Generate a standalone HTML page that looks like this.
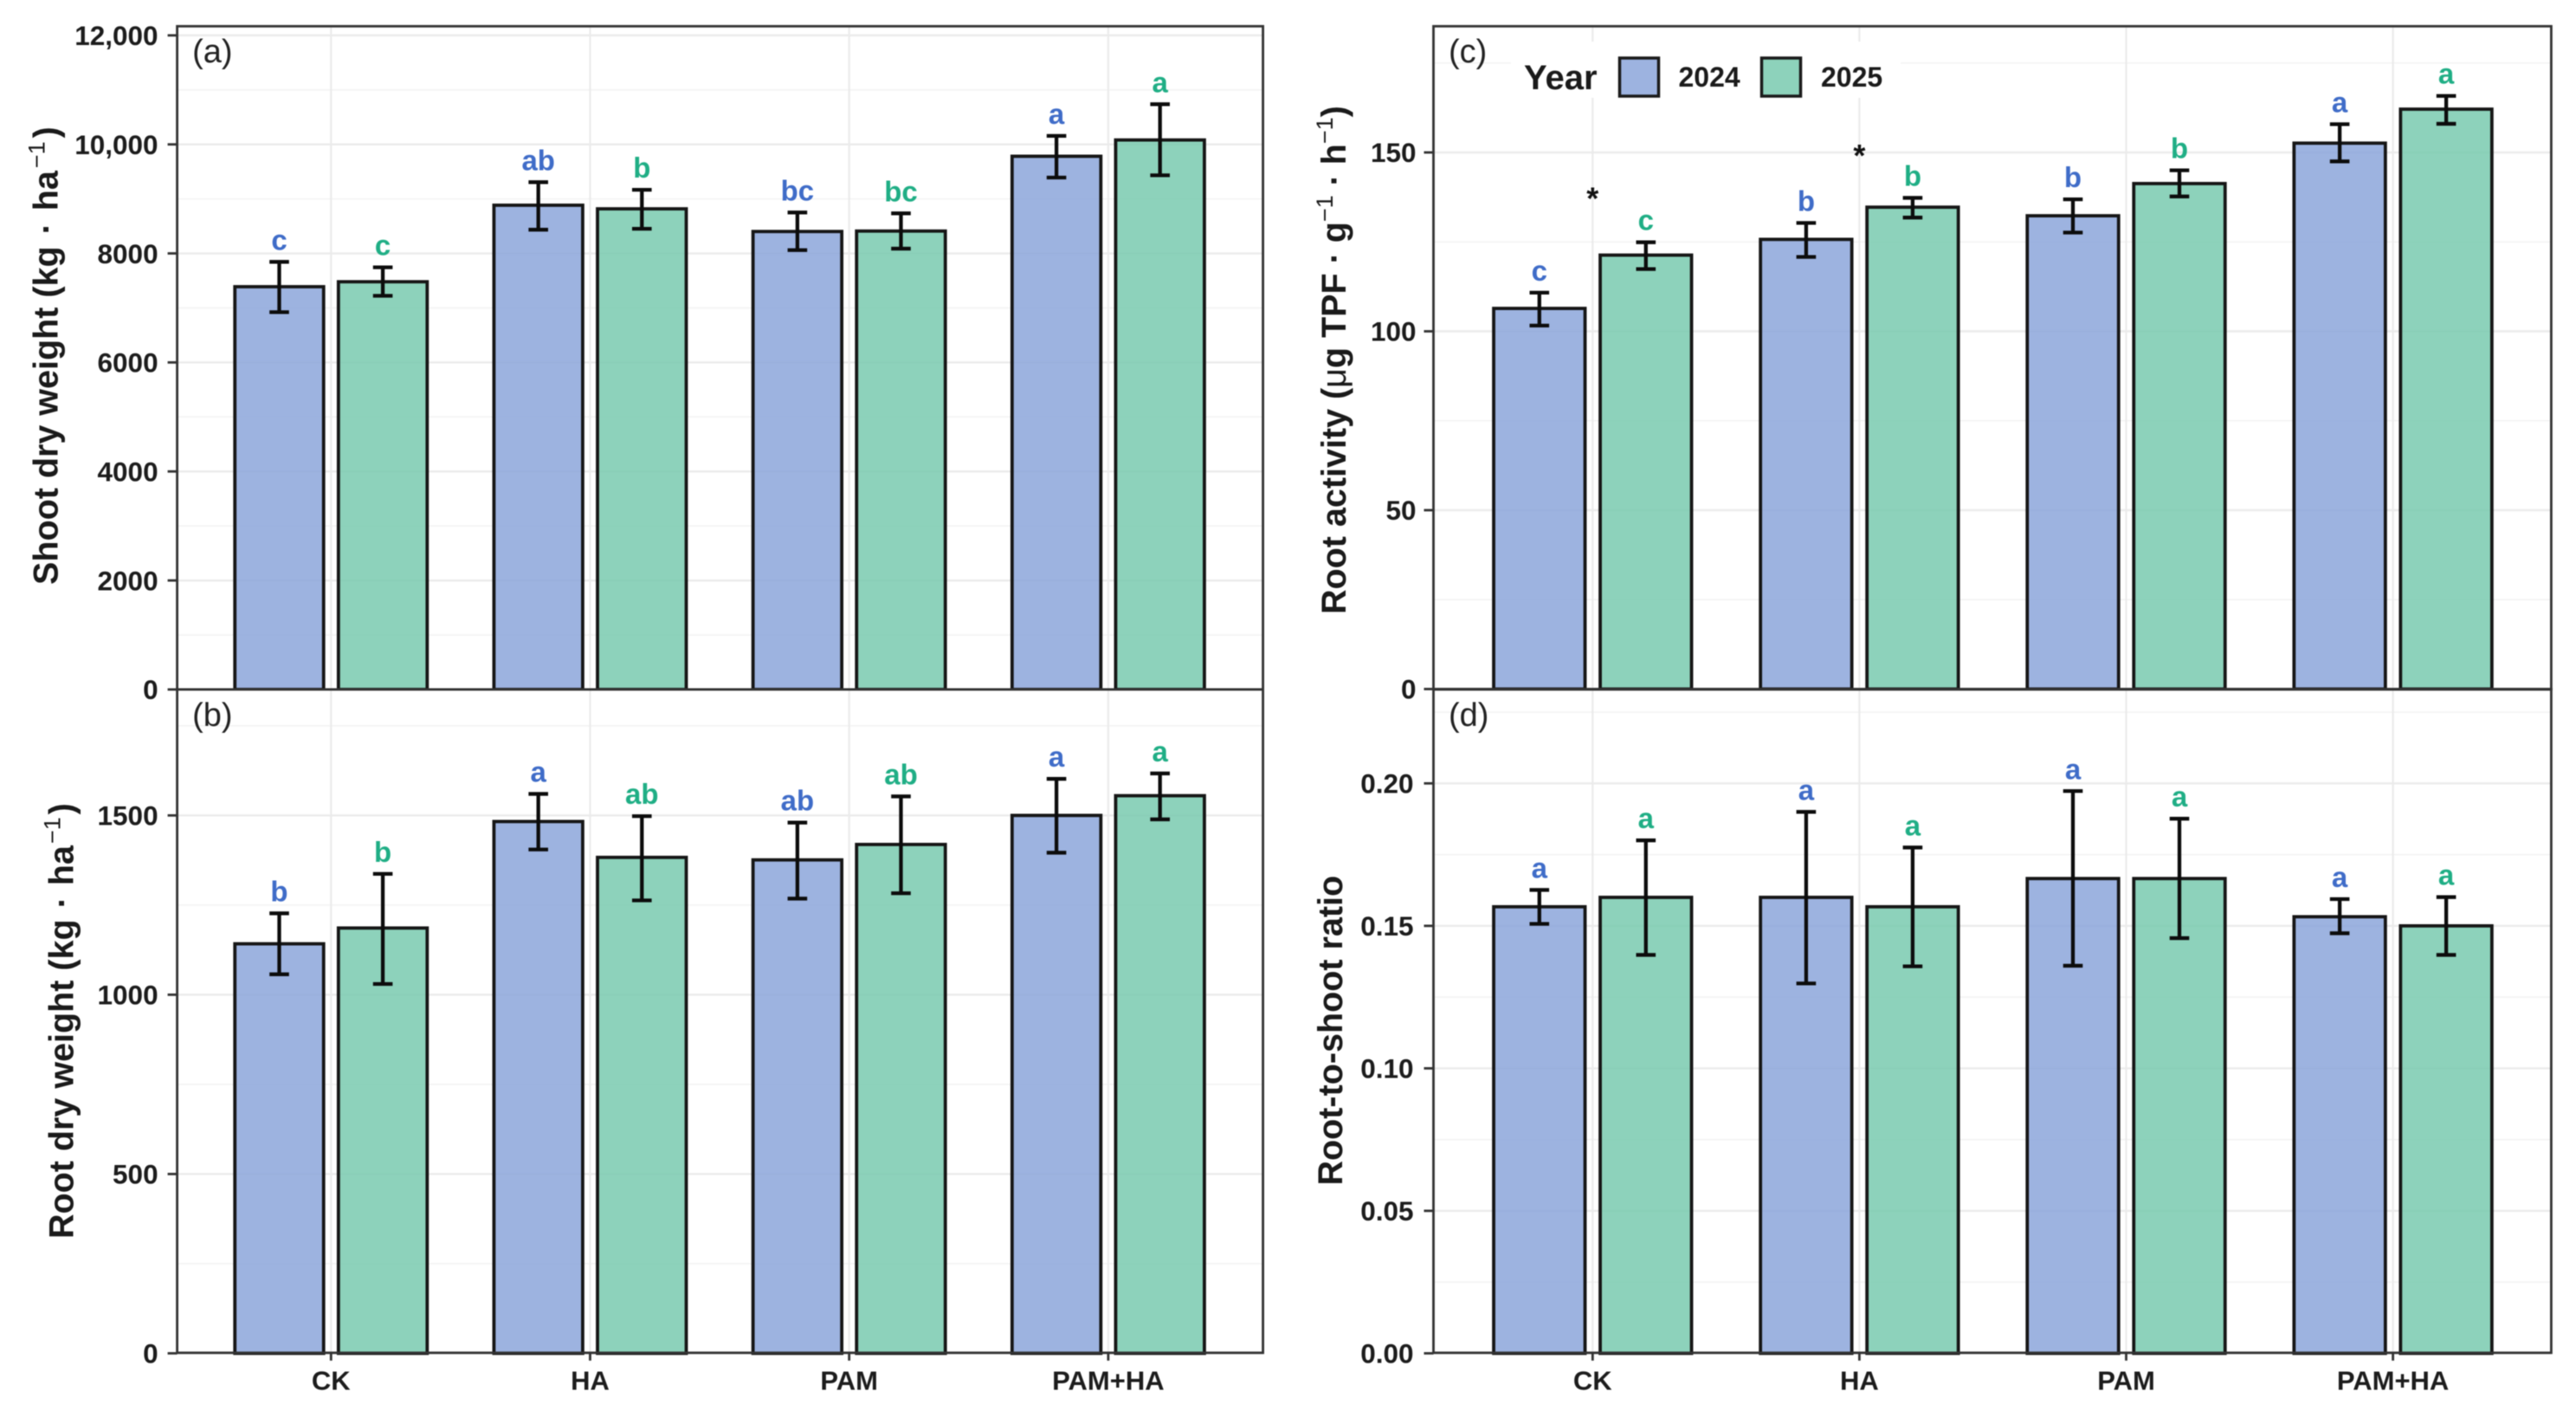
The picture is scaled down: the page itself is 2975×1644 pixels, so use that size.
<!DOCTYPE html>
<html lang="en">
<head>
<meta charset="utf-8">
<title>Shoot and root traits by treatment and year</title>
<style>
html,body{margin:0;padding:0;background:#fff;}
svg{display:block;filter:blur(0.5px);}
text{font-family:"Liberation Sans",Arial,sans-serif;}
.title{font-size:39.5px;font-weight:bold;fill:#1a1a1a;}
.sup{font-size:27px;font-weight:normal;}
.panel-tag{font-size:38px;fill:#222;}
.tick-text{font-size:31.5px;font-weight:bold;fill:#1c1c1c;}
</style>
</head>
<body>
<svg id="chart" xmlns="http://www.w3.org/2000/svg" width="2975" height="1644" viewBox="0 0 2975 1644">
  <rect x="0" y="0" width="2975" height="1644" fill="#ffffff"/>
  <g id="plots"></g>

  <text class="title" transform="translate(66.5 675) rotate(-90)">Shoot dry weight (kg <tspan dx="3">·</tspan><tspan dx="3"> ha</tspan><tspan class="sup" dx="3" dy="-15">−1</tspan><tspan dx="4" dy="15">)</tspan></text>
  <text class="title" transform="translate(84.5 1430) rotate(-90)">Root dry weight (kg <tspan dx="2">·</tspan><tspan dx="2"> ha</tspan><tspan class="sup" dx="2" dy="-15">−1</tspan><tspan dx="3" dy="15">)</tspan></text>
  <text class="title" transform="translate(1554 709) rotate(-90)">Root activity (<tspan font-weight="normal">μ</tspan>g TPF · g<tspan class="sup" dy="-15">−1</tspan><tspan dy="15"> · h</tspan><tspan class="sup" dy="-15">−1</tspan><tspan dy="15">)</tspan></text>
  <text class="title" transform="translate(1550 1368.5) rotate(-90)">Root-to-shoot ratio</text>

  <g>
    <text x="1760" y="103" font-size="40" font-weight="bold" fill="#1a1a1a">Year</text>
    <rect x="1870.5" y="67" width="45" height="44" fill="#9db3e0" stroke="#1a1a1a" stroke-width="3.5"/>
    <text x="1938.5" y="100" font-size="32" font-weight="bold" fill="#1a1a1a">2024</text>
    <rect x="2034.5" y="67" width="45" height="44" fill="#8dd2bb" stroke="#1a1a1a" stroke-width="3.5"/>
    <text x="2103" y="100" font-size="32" font-weight="bold" fill="#1a1a1a">2025</text>
  </g>
</svg>

<script>
const categories = ['CK', 'HA', 'PAM', 'PAM+HA'];
const years = ['2024', '2025'];

const shootMean2024 = [7389, 8884, 8402, 9782];
const shootUpper2024 = [7845, 9307, 8751, 10156];
const shootLower2024 = [6922, 8435, 8061, 9391];
const shootMean2025 = [7480, 8818, 8410, 10081];
const shootUpper2025 = [7745, 9167, 8735, 10737];
const shootLower2025 = [7222, 8452, 8087, 9433];
const shootLetters2024 = ['c', 'ab', 'bc', 'a'];
const shootLetters2025 = ['c', 'b', 'bc', 'a'];
const shootTicks = [0, 2000, 4000, 6000, 8000, 10000, 12000];
const shootTickLabels = ['0', '2000', '4000', '6000', '8000', '10,000', '12,000'];
const shootMinorTicks = [1000, 3000, 5000, 7000, 9000, 11000];

const rootMean2024 = [1142, 1483, 1376, 1500];
const rootUpper2024 = [1227, 1560, 1480, 1602];
const rootLower2024 = [1057, 1405, 1268, 1396];
const rootMean2025 = [1186, 1383, 1419, 1555];
const rootUpper2025 = [1337, 1498, 1553, 1617];
const rootLower2025 = [1030, 1263, 1283, 1489];
const rootLetters2024 = ['b', 'a', 'ab', 'a'];
const rootLetters2025 = ['b', 'ab', 'ab', 'a'];
const rootTicks = [0, 500, 1000, 1500];
const rootTickLabels = ['0', '500', '1000', '1500'];
const rootMinorTicks = [250, 750, 1250, 1750];

const activityMean2024 = [106.4, 125.7, 132.3, 152.6];
const activityUpper2024 = [110.8, 130.3, 136.9, 157.9];
const activityLower2024 = [101.6, 120.8, 127.6, 147.5];
const activityMean2025 = [121.3, 134.7, 141.3, 162.1];
const activityUpper2025 = [124.9, 137.3, 145, 165.8];
const activityLower2025 = [117.4, 131.8, 137.7, 158];
const activityLetters2024 = ['c', 'b', 'b', 'a'];
const activityLetters2025 = ['c', 'b', 'b', 'a'];
const activityTicks = [0, 50, 100, 150];
const activityTickLabels = ['0', '50', '100', '150'];
const activityMinorTicks = [25, 75, 125, 175];
const activityStarCategories = ['CK', 'HA'];
const activityStarValues = [137.5, 149.5];

const ratioMean2024 = [0.1567, 0.16, 0.1666, 0.1532];
const ratioUpper2024 = [0.1626, 0.19, 0.1973, 0.1594];
const ratioLower2024 = [0.1507, 0.1298, 0.136, 0.1474];
const ratioMean2025 = [0.16, 0.1567, 0.1666, 0.15];
const ratioUpper2025 = [0.18, 0.1775, 0.1876, 0.1601];
const ratioLower2025 = [0.1398, 0.1358, 0.1457, 0.1398];
const ratioLetters2024 = ['a', 'a', 'a', 'a'];
const ratioLetters2025 = ['a', 'a', 'a', 'a'];
const ratioTicks = [0, 0.05, 0.1, 0.15, 0.2];
const ratioTickLabels = ['0.00', '0.05', '0.10', '0.15', '0.20'];
const ratioMinorTicks = [0.025, 0.075, 0.125, 0.175, 0.225];

const SVG_NS = 'http://www.w3.org/2000/svg';
const FILLS = ['rgb(140,166,218)', 'rgb(121,202,175)'];
const LETTER_COLORS = ['#3f6cc8', '#1fae85'];

function make(tag, parent, attrs, content) {
  const node = document.createElementNS(SVG_NS, tag);
  Object.keys(attrs).forEach(function (k) { node.setAttribute(k, attrs[k]); });
  if (content !== undefined) node.textContent = content;
  parent.appendChild(node);
  return node;
}

function drawPanel(root, p) {
  const yOf = function (v) { return p.y0 - v * p.scale; };
  const xOf = function (i) { return p.x0 + i * p.step; };
  const group = make('g', root, {});
  
  

  const bg = make('rect', group, { x: p.left, y: p.top, width: p.right - p.left, height: p.bottom - p.top, fill: '#ffffff' });
  
  

  p.minorTicks.forEach(function (v) {
    const line = make('line', group, { x1: p.left, x2: p.right, y1: yOf(v), y2: yOf(v), stroke: '#f3f3f3', 'stroke-width': 1.6 });
    
    
  });
  p.ticks.forEach(function (v) {
    const line = make('line', group, { x1: p.left, x2: p.right, y1: yOf(v), y2: yOf(v), stroke: '#ebebeb', 'stroke-width': 2.4 });
    
    
  });
  categories.forEach(function (c, i) {
    const line = make('line', group, { x1: xOf(i), x2: xOf(i), y1: p.top, y2: p.bottom, stroke: '#ebebeb', 'stroke-width': 2.2 });
    
    
  });

  if (p.legendMask) {
    const mask = make('rect', group, { x: 1745, y: 48, width: 450, height: 65, fill: '#ffffff' });
    
    
  }

  years.forEach(function (year, s) {
    categories.forEach(function (c, i) {
      const cx = xOf(i) + (s === 0 ? -p.offset : p.offset);
      const top = yOf(p.means[s][i]);
      const bar = make('rect', group, {
        x: cx - p.barWidth / 2, y: top, width: p.barWidth, height: yOf(0) - top,
        fill: FILLS[s], 'fill-opacity': 0.85, stroke: '#161616', 'stroke-width': 3.8
      });
      
      
    });
  });

  years.forEach(function (year, s) {
    categories.forEach(function (c, i) {
      const cx = xOf(i) + (s === 0 ? -p.offset : p.offset);
      const yu = yOf(p.upper[s][i]);
      const yl = yOf(p.lower[s][i]);
      const err = make('path', group, {
        d: 'M' + (cx - 11.3) + ' ' + yu + 'H' + (cx + 11.3) + 'M' + cx + ' ' + yu + 'V' + yl + 'M' + (cx - 11.3) + ' ' + yl + 'H' + (cx + 11.3),
        fill: 'none', stroke: '#0c0c0c', 'stroke-width': 4.3
      });
      
      

      const letter = make('text', group, {
        x: cx, y: yu - 14, 'text-anchor': 'middle', 'font-size': 33, 'font-weight': 'bold', fill: LETTER_COLORS[s]
      }, p.letters[s][i]);
      
      
    });
  });

  if (p.starCategories) {
    p.starCategories.forEach(function (c, i) {
      const star = make('text', group, {
        x: xOf(categories.indexOf(c)), y: yOf(p.starValues[i]) + 14, 'text-anchor': 'middle', 'font-size': 36, 'font-weight': 'bold', fill: '#111'
      }, '*');
      
      
    });
  }

  const frame = make('rect', group, { x: p.left, y: p.top, width: p.right - p.left, height: p.bottom - p.top, fill: 'none', stroke: '#333333', 'stroke-width': 2.8 });
  
  

  p.ticks.forEach(function (v, i) {
    const tick = make('line', group, { x1: p.left - 11, x2: p.left, y1: yOf(v), y2: yOf(v), stroke: '#333333', 'stroke-width': 2.8 });
    
    
    const label = make('text', group, { class: 'tick-text', x: p.left - p.labelGap, y: yOf(v) + 11.2, 'text-anchor': 'end' }, p.tickLabels[i]);
    
    
  });

  if (p.showX) {
    categories.forEach(function (c, i) {
      const tick = make('line', group, { x1: xOf(i), x2: xOf(i), y1: p.bottom, y2: p.bottom + 9, stroke: '#333333', 'stroke-width': 2.8 });
      
      
      const label = make('text', group, { x: xOf(i), y: 1604.5, 'text-anchor': 'middle', 'font-size': 31, 'font-weight': 'bold', fill: '#1c1c1c' }, c);
      
      
    });
  }

  const tag = make('text', group, { class: 'panel-tag', x: p.left + 17.5, y: p.tagY }, '(' + p.id + ')');
  
  
}

const plots = document.getElementById('plots');

drawPanel(plots, {
  id: 'a', left: 204.6, right: 1458.6, top: 30.3, bottom: 796, y0: 796, scale: 0.06293,
  x0: 382.3, step: 299.2, offset: 59.8, barWidth: 102.5, labelGap: 22, tagY: 72, showX: false,
  means: [shootMean2024, shootMean2025], upper: [shootUpper2024, shootUpper2025], lower: [shootLower2024, shootLower2025],
  letters: [shootLetters2024, shootLetters2025], ticks: shootTicks, tickLabels: shootTickLabels, minorTicks: shootMinorTicks
});
drawPanel(plots, {
  id: 'b', left: 204.6, right: 1458.6, top: 796, bottom: 1561.8, y0: 1562.4, scale: 0.414,
  x0: 382.3, step: 299.2, offset: 59.8, barWidth: 102.5, labelGap: 22, tagY: 838, showX: true,
  means: [rootMean2024, rootMean2025], upper: [rootUpper2024, rootUpper2025], lower: [rootLower2024, rootLower2025],
  letters: [rootLetters2024, rootLetters2025], ticks: rootTicks, tickLabels: rootTickLabels, minorTicks: rootMinorTicks
});
drawPanel(plots, {
  id: 'c', left: 1655.5, right: 2946.4, top: 30.3, bottom: 795.5, y0: 795.5, scale: 4.13,
  x0: 1839.3, step: 308.1, offset: 61.5, barWidth: 105.5, labelGap: 20, tagY: 72, showX: false, legendMask: true,
  means: [activityMean2024, activityMean2025], upper: [activityUpper2024, activityUpper2025], lower: [activityLower2024, activityLower2025],
  letters: [activityLetters2024, activityLetters2025], ticks: activityTicks, tickLabels: activityTickLabels, minorTicks: activityMinorTicks,
  starCategories: activityStarCategories, starValues: activityStarValues
});
drawPanel(plots, {
  id: 'd', left: 1655.5, right: 2946.4, top: 796, bottom: 1561.8, y0: 1562.4, scale: 3290,
  x0: 1839.3, step: 308.1, offset: 61.5, barWidth: 105.5, labelGap: 23, tagY: 838, showX: true,
  means: [ratioMean2024, ratioMean2025], upper: [ratioUpper2024, ratioUpper2025], lower: [ratioLower2024, ratioLower2025],
  letters: [ratioLetters2024, ratioLetters2025], ticks: ratioTicks, tickLabels: ratioTickLabels, minorTicks: ratioMinorTicks
});
</script>
</body>
</html>
